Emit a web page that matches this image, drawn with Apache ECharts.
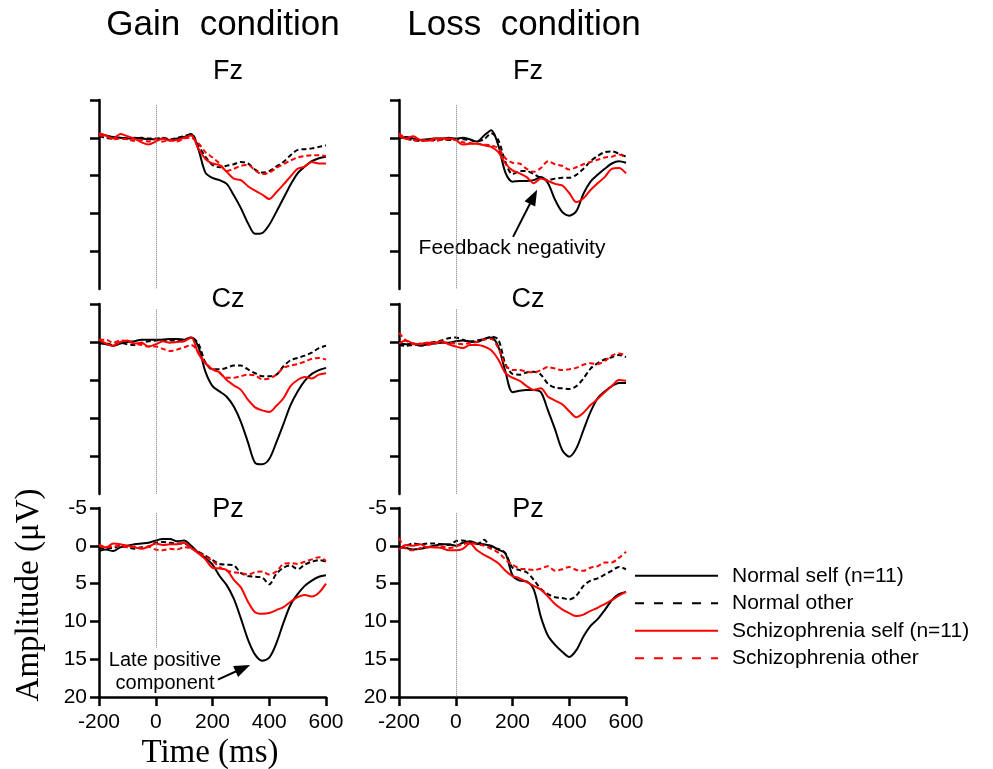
<!DOCTYPE html>
<html>
<head>
<meta charset="utf-8">
<title>Gain / Loss ERP</title>
<script src="https://cdn.jsdelivr.net/npm/echarts@6/dist/echarts.min.js"></script>
<style>
  html, body { margin: 0; padding: 0; background: #fff; }
  #chart { width: 993px; height: 769px; }
</style>
</head>
<body>
<div id="chart"></div>
<script>
// time axis (ms), one sample every 25 ms
var times = [-200, -175, -150, -125, -100, -75, -50, -25, 0, 25, 50, 75, 100, 125, 150, 175, 200,
  225, 250, 275, 300, 325, 350, 375, 400, 425, 450, 475, 500, 525, 550, 575, 600];

var seriesNames = ['Normal self (n=11)', 'Normal other', 'Schizophrenia self (n=11)', 'Schizophrenia other'];
var yTicks = [-5, 0, 5, 10, 15, 20];
var xTicks = [-200, 0, 200, 400, 600];

// amplitudes (µV); NS normal self, NO normal other, SS schizophrenia self, SO schizophrenia other
var gainFzNS = [-0.5, -0.3, -0.1, 0, 0.1, 0, 0.1, 0.2, 0.2, 0.1, 0.3, 0.1, -0.1, -0.5, 1.5, 4.6, 5.3, 5.6, 6.1, 7.6, 9.3, 11.3, 12.7, 12.6, 11.5, 9.8, 8.0, 6.2, 4.7, 3.8, 3.1, 2.7, 2.5];
var gainFzNO = [-0.2, 0, 0.1, 0, 0.1, 0.1, 0, 0.1, 0.1, 0, 0.2, 0, -0.2, -0.5, 1.0, 2.5, 3.6, 3.9, 3.7, 3.5, 3.2, 3.4, 4.2, 4.6, 4.4, 3.8, 3.2, 2.3, 1.6, 1.5, 1.4, 1.2, 1.0];
var gainFzSS = [-0.6, -0.3, 0.1, -0.5, -0.2, 0.1, 0.6, 0.9, 0.5, 0.1, 0.4, 0.3, 0.0, -0.3, 1.4, 2.8, 3.4, 3.6, 4.5, 5.4, 5.6, 6.4, 7.0, 7.5, 8.1, 7.2, 6.2, 5.1, 4.1, 3.8, 3.2, 3.4, 3.4];
var gainFzSO = [-0.3, -0.2, 0.2, 0.1, 0.2, 0.4, 0.3, 0.5, 0.2, 0.5, 0.3, 0.5, 0.1, 0.0, 0.7, 1.9, 2.6, 3.4, 4.4, 4.1, 3.7, 3.6, 4.3, 4.8, 4.6, 4.0, 3.5, 3.0, 2.6, 2.4, 2.3, 2.3, 2.4];

var lossFzNS = [0.1, -0.1, 0.1, 0.3, 0.2, 0.1, 0.1, 0, 0.1, 0, 0.2, 0.5, -0.3, -1.0, 1.0, 4.6, 5.8, 5.7, 5.7, 5.6, 5.2, 6.0, 8.2, 9.8, 10.3, 9.7, 7.4, 5.8, 4.9, 4.1, 3.4, 3.1, 3.3];
var lossFzNO = [-0.2, 0.1, 0.3, 0.4, 0.3, 0.3, 0.2, 0.3, 0.2, 0.2, 0.3, 0.5, 0.2, -0.6, 0.3, 3.2, 4.8, 4.4, 4.4, 4.8, 5.3, 5.6, 5.4, 5.3, 5.3, 4.9, 4.1, 3.1, 2.4, 1.9, 1.8, 2.1, 2.5];
var lossFzSS = [-0.3, 0.1, -0.2, 0.3, 0.4, 0.1, 0.1, 0.1, 0.3, 0.9, 0.8, 0.8, 1.0, 1.2, 1.9, 3.4, 4.3, 4.7, 5.2, 6.0, 5.4, 5.7, 6.1, 6.3, 7.3, 8.5, 8.0, 6.9, 6.0, 5.2, 4.1, 4.0, 4.7];
var lossFzSO = [-0.6, 0.1, 0.3, 0.4, 0.3, 0.4, 0.3, 0.2, 0.3, 0.6, 0.7, 0.8, 0.9, 1.0, 1.4, 2.7, 3.3, 3.4, 4.1, 4.5, 4.0, 3.1, 3.5, 3.7, 4.2, 3.9, 3.5, 3.2, 2.9, 2.6, 2.5, 2.2, 2.6];

var gainCzNS = [0.1, 0.3, 0.5, 0.2, 0.0, -0.1, -0.3, -0.3, -0.3, -0.3, -0.4, -0.4, -0.3, -0.6, 0.6, 3.9, 5.8, 6.5, 7.2, 8.5, 10.5, 13.2, 15.9, 16.1, 15.4, 13.2, 10.8, 8.3, 6.5, 5.1, 4.2, 3.7, 3.4];
var gainCzNO = [0.2, 0.2, 0.4, 0.1, 0.3, 0.4, 0.1, -0.1, -0.2, -0.3, -0.2, -0.2, -0.3, -0.6, 0.2, 2.7, 3.6, 3.6, 3.4, 3.1, 3.1, 3.6, 4.1, 4.5, 4.5, 4.3, 3.2, 2.4, 2.1, 1.8, 1.4, 0.8, 0.5];
var gainCzSS = [-0.3, 0.2, 0.5, 0.0, -0.2, 0.2, 0.1, 0.6, 0.3, -0.1, 0.1, 0.0, -0.1, -0.6, 1.5, 2.8, 3.6, 4.0, 5.0, 5.7, 6.3, 7.6, 8.6, 9.0, 9.2, 8.4, 7.4, 5.8, 5.0, 4.6, 4.8, 4.3, 4.1];
var gainCzSO = [-0.3, -0.3, 0.1, -0.2, -0.1, 0.2, 0.4, 0.6, 0.6, 0.9, 1.2, 1.0, 0.7, 0.4, 1.3, 2.8, 3.5, 4.1, 4.7, 4.7, 4.5, 4.3, 4.4, 4.9, 4.8, 4.3, 3.4, 3.1, 2.9, 2.6, 2.2, 2.1, 2.3];

var lossCzNS = [0.2, 0.3, 0.2, 0.5, 0.3, 0.2, 0.1, 0.1, -0.1, -0.2, -0.1, 0.0, -0.4, -0.6, 0.6, 3.9, 6.6, 6.4, 6.3, 6.3, 6.6, 9.0, 11.5, 14.2, 15.1, 14.0, 11.6, 9.2, 7.4, 6.5, 5.8, 5.4, 5.4];
var lossCzNO = [0.4, 0.5, 0.4, 0.3, 0.1, 0.0, -0.2, -0.5, -0.6, -0.3, 0.0, -0.2, -0.4, -0.7, -0.3, 2.9, 4.2, 4.3, 4.0, 3.9, 4.3, 5.5, 6.0, 6.1, 6.2, 5.8, 4.8, 3.5, 2.8, 2.3, 2.0, 1.7, 2.0];
var lossCzSS = [0.2, -0.2, 0.2, 0.3, 0.1, 0.1, -0.1, 0.3, 0.6, 0.8, 0.4, 0.4, 0.6, 1.1, 2.3, 4.1, 4.7, 5.1, 5.8, 6.3, 6.1, 7.2, 7.7, 8.2, 9.1, 9.9, 9.3, 8.3, 7.5, 6.6, 5.8, 5.0, 5.1];
var lossCzSO = [-1.2, -0.2, 0.3, 0.2, 0.4, 0.2, 0.1, 0.1, 0.2, 0.3, 0.1, 0.0, -0.3, -0.4, 0.8, 3.0, 3.7, 3.7, 3.9, 4.0, 3.7, 3.3, 3.5, 3.7, 3.6, 3.4, 3.0, 2.8, 2.9, 2.5, 1.8, 1.5, 1.8];

var gainPzNS = [0.7, 0.5, 0.7, 0.2, 0.0, -0.2, -0.3, -0.4, -0.7, -0.9, -0.9, -0.6, -0.7, 0.0, 0.9, 1.6, 2.5, 4.0, 5.2, 7.0, 9.6, 12.4, 14.4, 15.2, 14.8, 12.9, 10.2, 7.8, 6.4, 5.3, 4.6, 4.1, 3.9];
var gainPzNO = [0.4, 0.3, 0.3, 0, 0.2, 0.4, 0.2, 0.1, -0.4, -0.5, -0.4, -0.3, -0.3, 0.3, 0.8, 1.3, 1.9, 2.4, 2.5, 2.6, 3.6, 4.0, 4.1, 4.2, 5.1, 3.7, 2.9, 2.6, 3.1, 2.5, 2.1, 1.9, 2.1];
var gainPzSS = [-0.2, 0.2, -0.3, -0.2, 0.0, 0.2, 0.4, 0.1, -0.3, -0.1, -0.2, -0.2, -0.4, 0.3, 1.0, 1.8, 2.9, 3.0, 3.2, 4.5, 5.5, 7.4, 8.8, 9.0, 8.9, 8.5, 8.1, 7.4, 6.8, 6.5, 6.7, 6.2, 5.0];
var gainPzSO = [0.0, 0.2, 0.1, 0.0, 0.2, 0.1, 0.3, 0.1, 0.5, 0.6, 0.4, 0.5, 0.2, 0.3, 0.9, 1.4, 2.0, 2.8, 3.3, 3.5, 3.6, 3.8, 3.5, 3.4, 3.8, 3.4, 2.4, 2.3, 2.4, 2.1, 1.8, 1.5, 2.0];

var lossPzNS = [0.2, 0.3, 0.5, 0.4, 0.2, 0.0, -0.2, -0.2, 0.0, -0.4, -0.6, -0.3, -0.2, 0.0, 0.5, 1.0, 3.9, 4.6, 4.7, 5.8, 9.4, 11.9, 13.1, 14.0, 14.7, 13.8, 12.0, 10.6, 9.7, 8.5, 7.2, 6.4, 6.1];
var lossPzNO = [0.3, 0.0, -0.3, -0.2, -0.3, -0.3, -0.2, -0.1, -0.6, -0.7, -0.5, -0.2, -0.8, 0.3, 0.4, 1.0, 2.9, 3.2, 3.5, 4.5, 5.7, 6.4, 6.8, 6.9, 7.1, 6.6, 5.3, 4.6, 4.3, 3.8, 3.3, 2.8, 3.1];
var lossPzSS = [0.5, -0.1, 0.0, -0.2, 0.2, 0.2, 0.3, 0.6, 0.6, 0.4, -0.3, 0.6, 1.2, 1.7, 2.3, 3.3, 4.0, 4.3, 4.8, 5.3, 5.8, 6.7, 7.7, 8.4, 8.9, 9.3, 9.1, 8.6, 8.2, 7.7, 7.2, 6.6, 6.1];
var lossPzSO = [-1.0, 0.4, 0.6, 0.3, 0.2, 0.2, 0.1, 0.3, 0.1, -0.2, -0.4, -0.2, 0.0, 0.4, 0.9, 1.8, 2.5, 3.0, 3.1, 3.2, 3.0, 2.7, 3.3, 3.1, 2.8, 3.2, 3.3, 2.9, 2.7, 2.2, 2.2, 1.6, 0.8];

// annotation arrows, [time, amplitude] of tail and head
var fbArrow = [[202, 13.1], [274, 7.8]];
var lpcArrow = [[219, 17.7], [307, 16.2]];

var SANS = '"Liberation Sans", Arial, sans-serif';
var SERIF = '"Liberation Serif", "Times New Roman", serif';
var colors = ['#000000', '#000000', '#ff0000', '#ff0000'];
var dashed = [false, true, false, true];

var panels = [
  { label: 'Fz', col: 0, row: 0, lines: [gainFzNS, gainFzNO, gainFzSS, gainFzSO], zeroEnd: 20 },
  { label: 'Fz', col: 1, row: 0, lines: [lossFzNS, lossFzNO, lossFzSS, lossFzSO], zeroEnd: 20, arrow: fbArrow },
  { label: 'Cz', col: 0, row: 1, lines: [gainCzNS, gainCzNO, gainCzSS, gainCzSO], zeroEnd: 20 },
  { label: 'Cz', col: 1, row: 1, lines: [lossCzNS, lossCzNO, lossCzSS, lossCzSO], zeroEnd: 20 },
  { label: 'Pz', col: 0, row: 2, lines: [gainPzNS, gainPzNO, gainPzSS, gainPzSO], zeroEnd: 13.5, arrow: lpcArrow },
  { label: 'Pz', col: 1, row: 2, lines: [lossPzNS, lossPzNO, lossPzSS, lossPzSO], zeroEnd: 20 }
];

var colLeft = [99, 399];
var rowTop = [100, 304, 508];
var rowHeight = [189, 190, 189];
var plotWidth = 227;

var axisLine = { show: true, onZero: false, lineStyle: { color: '#000', width: 2.5 } };
var axisTick = { show: true, inside: false, length: 9, lineStyle: { color: '#000', width: 2.5 } };

var grid = [], xAxis = [], yAxis = [], series = [], graphic = [];

panels.forEach(function (p, i) {
  var bottom = p.row === 2;
  grid.push({ left: colLeft[p.col], top: rowTop[p.row], width: plotWidth, height: rowHeight[p.row] });

  xAxis.push({
    gridIndex: i, type: 'value', min: -200, max: 600, interval: 200,
    show: bottom,
    axisLine: axisLine,
    axisTick: axisTick,
    axisLabel: { show: bottom, margin: 15, fontSize: 21, color: '#000', fontFamily: SANS, customValues: xTicks },
    splitLine: { show: false }
  });

  yAxis.push({
    gridIndex: i, type: 'value', inverse: true, min: -5, max: 20, interval: 5,
    axisLine: axisLine,
    axisTick: bottom ? axisTick : Object.assign({}, axisTick, { customValues: yTicks.slice(0, 5) }),
    axisLabel: { show: bottom, margin: 12, fontSize: 21, color: '#000', fontFamily: SANS },
    splitLine: { show: false }
  });

  p.lines.forEach(function (vals, k) {
    var s = {
      name: seriesNames[k],
      type: 'line',
      xAxisIndex: i,
      yAxisIndex: i,
      data: times.map(function (t, j) { return [t, vals[j]]; }),
      symbol: 'none',
      smooth: 0.3,
      silent: true,
      itemStyle: { color: colors[k] },
      lineStyle: { color: colors[k], width: 2, type: dashed[k] ? [5, 3] : 'solid' }
    };
    if (k === 0) {
      // dotted line at stimulus onset
      s.markLine = {
        silent: true, symbol: ['none', 'none'], label: { show: false },
        lineStyle: { color: '#777', type: 'dotted', width: 1 },
        data: [[{ coord: [0, -4.3] }, { coord: [0, p.zeroEnd] }]]
      };
    }
    if (k === 1 && p.arrow) {
      s.markLine = {
        silent: true, symbol: ['none', 'triangle'], symbolSize: [12, 16], label: { show: false },
        lineStyle: { color: '#000', type: 'solid', width: 2 },
        itemStyle: { color: '#000' },
        data: [[{ coord: p.arrow[0] }, { coord: p.arrow[1] }]]
      };
    }
    series.push(s);
  });

  graphic.push({
    type: 'text', x: colLeft[p.col] + 129, y: [72, 300, 510][p.row],
    style: { text: p.label, font: '27px ' + SANS, fill: '#000', align: 'center', verticalAlign: 'middle', textAlign: 'center', textVerticalAlign: 'middle' }
  });
});

function label(text, x, y, font, extra) {
  var el = {
    type: 'text', x: x, y: y,
    style: { text: text, font: font, fill: '#000', align: 'center', verticalAlign: 'middle', textAlign: 'center', textVerticalAlign: 'middle' }
  };
  return Object.assign(el, extra || {});
}

graphic.push(label('Gain  condition', 223, 25, '35px ' + SANS));
graphic.push(label('Loss  condition', 524, 25, '35px ' + SANS));
graphic.push(label('Time (ms)', 210, 753, '33px ' + SERIF));
graphic.push(label('Amplitude (\u03bcV)', 29, 595, '33px ' + SERIF, { rotation: Math.PI / 2 }));
graphic.push(label('Feedback negativity', 512, 248, '21px ' + SANS));
var lpc = label('Late positive\ncomponent', 165, 672, '20px ' + SANS);
lpc.style.lineHeight = 23;
graphic.push(lpc);

var chart = echarts.init(document.getElementById('chart'));
chart.setOption({
  animation: false,
  backgroundColor: '#fff',
  grid: grid,
  xAxis: xAxis,
  yAxis: yAxis,
  legend: {
    orient: 'vertical', left: 634, top: 562, padding: 0,
    itemWidth: 83, itemHeight: 14, itemGap: 0,
    selectedMode: false,
    itemStyle: { opacity: 0 },
    textStyle: { fontSize: 21, color: '#000', fontFamily: SANS, lineHeight: 27.5, padding: [0, 0, 0, 9] },
    data: [
      { name: seriesNames[0] },
      { name: seriesNames[1], lineStyle: { type: [9, 10] } },
      { name: seriesNames[2] },
      { name: seriesNames[3], lineStyle: { type: [9, 10] } }
    ]
  },
  series: series,
  graphic: graphic
});
</script>
</body>
</html>
